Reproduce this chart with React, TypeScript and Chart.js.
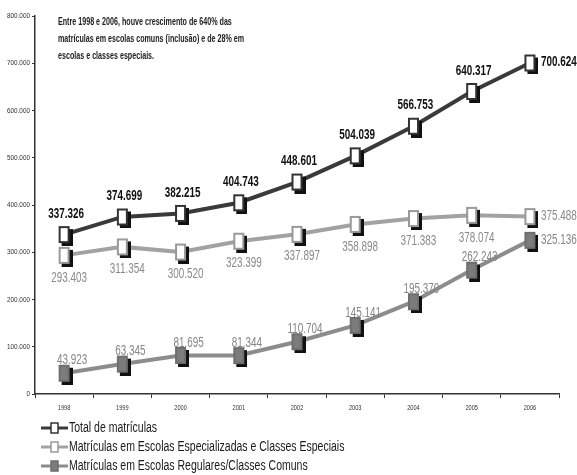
import React, { useEffect, useRef } from "react";
import { Chart, registerables } from "chart.js";

Chart.register(...registerables);

const years = ["1998", "1999", "2000", "2001", "2002", "2003", "2004", "2005", "2006"];
const totalValues = [337326, 374699, 382215, 404743, 448601, 504039, 566753, 640317, 700624];
const specialValues = [293403, 311354, 300520, 323399, 337897, 358898, 371383, 378074, 375488];
const regularValues = [43923, 63345, 81695, 81344, 110704, 145141, 195370, 262243, 325136];
const seriesLabels = [
  "Total de matrículas",
  "Matrículas em Escolas Especializadas e Classes Especiais",
  "Matrículas em Escolas Regulares/Classes Comuns",
];
const noteLines = [
  "Entre 1998 e 2006, houve crescimento de 640% das",
  "matrículas em escolas comuns (inclusão) e de 28% em",
  "escolas e classes especiais.",
];
const yMax = 800000;
const yStep = 100000;

const FONT = '"Liberation Sans", Arial, sans-serif';

const fmt = (v: number) => String(Math.round(v)).replace(/\B(?=(\d{3})+(?!\d))/g, ".");

function narrowText(ctx: CanvasRenderingContext2D, text: string, x: number, y: number, align: CanvasTextAlign, sx: number) {
  ctx.save();
  ctx.translate(x, y);
  ctx.scale(sx, 1);
  ctx.textAlign = align;
  ctx.textBaseline = "middle";
  ctx.fillText(text, 0, 0);
  ctx.restore();
}

function makeMarker(fill: string, stroke: string, w: number, h: number, sh: number) {
  const c = document.createElement("canvas");
  c.width = w + 2 * sh;
  c.height = h + 2 * sh;
  const ctx = c.getContext("2d")!;
  ctx.fillStyle = "#111";
  ctx.fillRect(2 * sh, 2 * sh, w, h);
  ctx.fillStyle = fill;
  ctx.fillRect(sh, sh, w, h);
  ctx.strokeStyle = stroke;
  ctx.lineWidth = 2;
  ctx.strokeRect(sh + 1, sh + 1, w - 2, h - 2);
  return c;
}

const styles = [
  { line: "#3a3a3a", fill: "#ffffff", stroke: "#333333", label: "#111111", bold: true, place: "above", off: 21, dx: 2 },
  { line: "#a2a2a2", fill: "#ffffff", stroke: "#999999", label: "#8a8a8a", bold: false, place: "below", off: 22, dx: 5 },
  { line: "#8c8c8c", fill: "#7c7c7c", stroke: "#6e6e6e", label: "#858585", bold: false, place: "above", off: 13, dx: 8 },
];

const overlayPlugin = {
  id: "overlay",
  afterDatasetsDraw(chart: any) {
    const ctx: CanvasRenderingContext2D = chart.ctx;
    ctx.save();
    // axis tick labels
    const xs = chart.scales.x;
    const ys = chart.scales.y;
    ctx.fillStyle = "#333";
    ctx.font = `7.5px ${FONT}`;
    chart.data.labels.forEach((lab: string, i: number) => {
      narrowText(ctx, lab, xs.getPixelForValue(i), ys.bottom + 14, "center", 0.75);
    });
    ys.ticks.forEach((t: any) => {
      narrowText(ctx, fmt(t.value), ys.right - 5, ys.getPixelForValue(t.value), "right", 0.85);
    });
    // data labels
    chart.data.datasets.forEach((ds: any, d: number) => {
      const st = styles[ds.styleIndex];
      const meta = chart.getDatasetMeta(d);
      ctx.font = `${st.bold ? "bold " : ""}15px ${FONT}`;
      ctx.fillStyle = st.label;
      meta.data.forEach((pt: any, i: number) => {
        const v = ds.data[i];
        if (i === ds.data.length - 1) {
          narrowText(ctx, fmt(v), pt.x + 11, pt.y - 1, "left", 0.66);
        } else {
          const y = st.place === "above" ? pt.y - st.off : pt.y + st.off;
          narrowText(ctx, fmt(v), pt.x + st.dx, y, "center", 0.66);
        }
      });
    });
    // note
    ctx.font = `bold 10.5px ${FONT}`;
    ctx.fillStyle = "#222";
    noteLines.forEach((t, i) => narrowText(ctx, t, 58, 22 + i * 17, "left", 0.68));
    // legend
    const sorted = chart.data.datasets.slice().sort((a: any, b: any) => a.styleIndex - b.styleIndex);
    sorted.forEach((ds: any, d: number) => {
      const st = styles[ds.styleIndex];
      const y = 428 + d * 19;
      ctx.strokeStyle = st.line;
      ctx.lineWidth = 3;
      ctx.beginPath();
      ctx.moveTo(41, y);
      ctx.lineTo(68, y);
      ctx.stroke();
      ctx.fillStyle = st.fill;
      ctx.fillRect(51, y - 5, 7, 10);
      ctx.strokeStyle = st.stroke;
      ctx.lineWidth = 1.5;
      ctx.strokeRect(51, y - 5, 7, 10);
      ctx.font = `14px ${FONT}`;
      ctx.fillStyle = "#1a1a1a";
      narrowText(ctx, ds.label, 69, y, "left", 0.75);
    });
    ctx.restore();
  },
};

export default function App() {
  const ref = useRef<HTMLCanvasElement | null>(null);
  useEffect(() => {
    if (!ref.current) return;
    const mk = (s: any) => makeMarker(s.fill, s.stroke, 11, 17, 3);
    const order = [2, 1, 0];
    const valueSets = [totalValues, specialValues, regularValues];
    const chart = new Chart(ref.current, {
      type: "line",
      data: {
        labels: years,
        datasets: order.map((k) => ({
          label: seriesLabels[k],
          data: valueSets[k],
          styleIndex: k,
          borderColor: styles[k].line,
          borderWidth: 4,
          pointStyle: mk(styles[k]),
          pointRadius: 8,
          tension: 0,
          fill: false,
        })) as any,
      },
      options: {
        animation: false,
        responsive: false,
        layout: { padding: { top: 16, right: 18, bottom: 61, left: 0 } },
        plugins: { legend: { display: false }, tooltip: { enabled: false } },
        scales: {
          x: {
            offset: true,
            grid: { drawOnChartArea: false, drawTicks: true, tickLength: 4, color: "#333", offset: true },
            border: { color: "#333", width: 1.5 },
            ticks: { display: false },
            afterFit: (s: any) => { s.height = 20; },
          },
          y: {
            min: 0,
            max: yMax,
            grid: { drawOnChartArea: false, drawTicks: true, tickLength: 3, color: "#333" },
            border: { color: "#333", width: 1.5 },
            ticks: { display: false, stepSize: yStep },
            afterFit: (s: any) => { s.width = 35; },
          },
        },
      },
      plugins: [overlayPlugin],
    });
    return () => chart.destroy();
  }, []);
  return (
    <div style={{ position: "fixed", left: 0, top: 0, width: 577, height: 475, background: "#fff" }}>
      <canvas ref={ref} width={577} height={475} />
    </div>
  );
}
